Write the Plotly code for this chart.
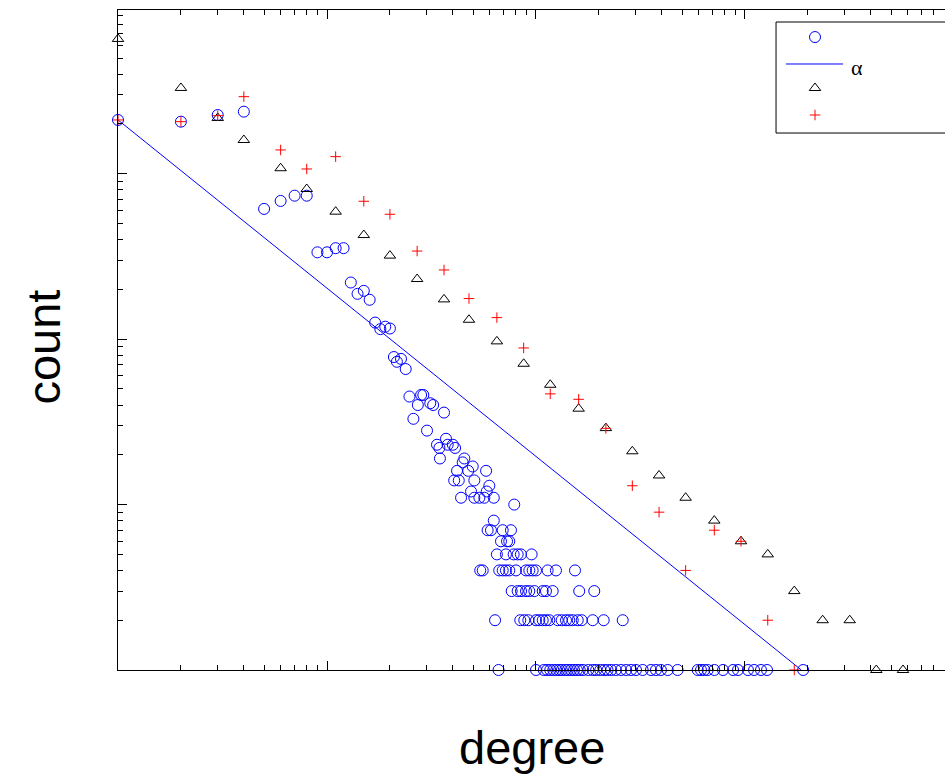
import plotly.graph_objects as go

# ---- raw degree distribution (open circles) ----
upper_deg = [1, 2, 3, 4, 5, 6, 7, 8, 9, 10, 11, 12, 13, 14, 15, 16, 17, 18, 19, 20,
             20.9, 21.6, 22.6, 23.8, 24.8, 25.9, 27.2, 28.2, 28.9, 30.1, 31.2, 32.2,
             33.6, 34.5, 34.7, 36.3, 37.1, 37.8, 40, 41, 40.6, 42.7, 41.9, 43.8, 44.6,
             45.4, 47.4, 48.9, 49.8, 50.7, 50.7, 53.6, 56.6, 57.7, 58.1, 59.8, 62.8, 78.7]
upper_cnt = [2115, 2065, 2266, 2374, 613, 685, 737, 737, 335, 335, 355, 355, 220, 188,
             196, 173, 126, 115, 119, 116,
             78, 73, 76, 66, 45, 33, 40, 46, 46, 28, 41, 40,
             23, 22, 19, 36, 25, 23, 23, 22, 14, 14, 16, 11, 18,
             19, 16, 12, 17, 14, 11, 11, 11, 16, 12, 13, 11, 10]

deg_count8 = [62.8]
deg_count7 = [58.7, 60.9, 69.3, 75.9]
deg_count6 = [68, 72.7, 74.5]
deg_count5 = [65, 71.8, 78.2, 81.7, 84.7, 95.3]
deg_count4 = [54.1, 55.6, 66.7, 69.3, 71.8, 74.5, 80.2, 89.6, 92.9, 96.4, 100, 113.7,
              124.6, 153.7]
deg_count3 = [76.5, 81.7, 84.8, 89.6, 92.9, 98.2, 107.7, 111.6, 120.2, 161, 190]
deg_count2 = [63.7, 84.1, 87.9, 91.9, 100, 103.7, 107.7, 111.6, 115.8, 127, 132.7,
              139.2, 144.3, 149.9, 158.4, 165.5, 186.8, 210.8, 260]
deg_count1 = [66.2, 100, 109, 113, 117, 121, 125, 129, 133, 138, 142, 147, 152, 157,
              162, 168, 178, 187, 194, 203, 212, 220, 229, 241, 255, 270, 285, 301,
              324, 355, 375, 396, 427, 476, 594, 616, 639, 663, 713, 785, 877, 926,
              1033, 1105, 1193, 1275, 1898]

# ---- power-law fit ----
fit_deg = [1, 1860]
fit_cnt = [2115, 1]

# ---- log-binned distribution (triangles) ----
bin_deg = [1, 2, 3, 4, 6, 8, 11, 15, 20, 27, 36.3, 47.8, 65, 87.3, 117, 160, 216,
           289, 388, 520, 713, 957, 1285, 1721, 2353, 3170, 4249, 5703]
bin_cnt = [6531, 3302, 2175, 1600, 1080, 809, 590, 426, 320, 231, 174, 131, 97, 71,
           53, 38, 29, 21, 15, 11, 8, 6, 5, 3, 2, 2, 1, 1]

# ---- model distribution (red crosses) ----
model_deg = [1, 2, 3, 4, 6, 8, 11, 15, 20, 27, 36.3, 47.8, 65, 87.3, 117, 160, 216,
             289, 388, 520, 713, 957, 1285, 1721]
model_cnt = [2115, 2065, 2245, 2925, 1393, 1069, 1269, 682, 569, 341, 262, 176, 135,
             88.5, 46.7, 43.3, 28.9, 13, 9, 4, 7, 6, 2, 1]

# ---- axis ticks ----
major_x = [1, 10, 100, 1000]
major_y = [1, 10, 100, 1000]
minor_vals = [m * 10 ** e for e in range(4) for m in range(2, 10)]

circle_deg = (upper_deg + deg_count8 + deg_count7 + deg_count6 + deg_count5
              + deg_count4 + deg_count3 + deg_count2 + deg_count1)
circle_cnt = (upper_cnt + [8] * len(deg_count8) + [7] * len(deg_count7)
              + [6] * len(deg_count6) + [5] * len(deg_count5) + [4] * len(deg_count4)
              + [3] * len(deg_count3) + [2] * len(deg_count2) + [1] * len(deg_count1))

BLUE = "#0000ff"
RED = "#ff0000"

fig = go.Figure()
fig.add_trace(go.Scatter(
    x=circle_deg, y=circle_cnt, mode="markers", cliponaxis=False,
    marker=dict(symbol="circle-open", size=11, color=BLUE, line=dict(width=1, color=BLUE)),
    showlegend=False))
fig.add_trace(go.Scatter(
    x=fit_deg, y=fit_cnt, mode="lines", line=dict(color=BLUE, width=1),
    cliponaxis=False, showlegend=False))
fig.add_trace(go.Scatter(
    x=bin_deg, y=bin_cnt, mode="markers", cliponaxis=False,
    marker=dict(symbol="triangle-up-open", size=10, color="black",
                line=dict(width=1, color="black")),
    showlegend=False))
fig.add_trace(go.Scatter(
    x=model_deg, y=model_cnt, mode="markers", cliponaxis=False,
    marker=dict(symbol="cross-thin-open", size=7.5, color=RED,
                line=dict(width=1, color=RED)),
    showlegend=False))

# ---- legend box drawn in plot-fraction coordinates ----
leg_x0, leg_x1, leg_y0, leg_y1 = 0.7957, 1.25, 0.8136, 0.9818
sym_x = 0.8428
fig.add_shape(type="rect", xref="paper", yref="paper", x0=leg_x0, x1=leg_x1,
              y0=leg_y0, y1=leg_y1, line=dict(color="black", width=1),
              fillcolor="white", layer="below")
fig.add_trace(go.Scatter(
    x=[sym_x], y=[0.959], xaxis="x2", yaxis="y2", mode="markers", cliponaxis=False,
    marker=dict(symbol="circle-open", size=11, color=BLUE, line=dict(width=1, color=BLUE)),
    showlegend=False, hoverinfo="skip"))
fig.add_trace(go.Scatter(
    x=[0.8077, 0.8767], y=[0.9182, 0.9182], xaxis="x2", yaxis="y2", mode="lines",
    cliponaxis=False, line=dict(color=BLUE, width=1), showlegend=False, hoverinfo="skip"))
fig.add_trace(go.Scatter(
    x=[sym_x], y=[0.8818], xaxis="x2", yaxis="y2", mode="markers", cliponaxis=False,
    marker=dict(symbol="triangle-up-open", size=10, color="black",
                line=dict(width=1, color="black")),
    showlegend=False, hoverinfo="skip"))
fig.add_trace(go.Scatter(
    x=[sym_x], y=[0.8409], xaxis="x2", yaxis="y2", mode="markers", cliponaxis=False,
    marker=dict(symbol="cross-thin-open", size=7.5, color=RED,
                line=dict(width=1, color=RED)),
    showlegend=False, hoverinfo="skip"))
fig.add_annotation(text="α", xref="paper", yref="paper", x=0.8936, y=0.9136,
                   xanchor="center", yanchor="middle", showarrow=False,
                   font=dict(family="Liberation Serif", size=22, color="black"))

# ---- axis titles ----
fig.add_annotation(text="count", xref="paper", yref="paper", x=-0.0895, y=0.49,
                   xanchor="center", yanchor="middle", textangle=-90, showarrow=False,
                   font=dict(family="Liberation Sans", size=47, color="black"))
fig.add_annotation(text="degree", xref="paper", yref="paper", x=0.5, y=-0.161,
                   xanchor="center", yanchor="bottom", showarrow=False,
                   font=dict(family="Liberation Sans", size=47, color="black"))

axis_common = dict(
    type="log", showline=True, linecolor="black", linewidth=1,
    ticks="inside", ticklen=9, tickwidth=1, tickcolor="black",
    showticklabels=False, showgrid=False, zeroline=False,
    minor=dict(ticks="inside", ticklen=5, tickwidth=1, tickcolor="black",
               tickvals=minor_vals, showgrid=False),
)

fig.update_layout(
    width=945, height=775,
    margin=dict(l=118, r=0, t=10, b=105),
    paper_bgcolor="white", plot_bgcolor="white",
    font=dict(family="Liberation Sans", color="black"),
    xaxis=dict(range=[0, 3.957], tickvals=major_x, mirror="ticks", **axis_common),
    yaxis=dict(range=[0, 3.99], tickvals=major_y, mirror=False, **axis_common),
    xaxis2=dict(overlaying="x", range=[0, 1], visible=False, fixedrange=True),
    yaxis2=dict(overlaying="y", range=[0, 1], visible=False, fixedrange=True),
    showlegend=False,
)

fig.write_html("out.html")
